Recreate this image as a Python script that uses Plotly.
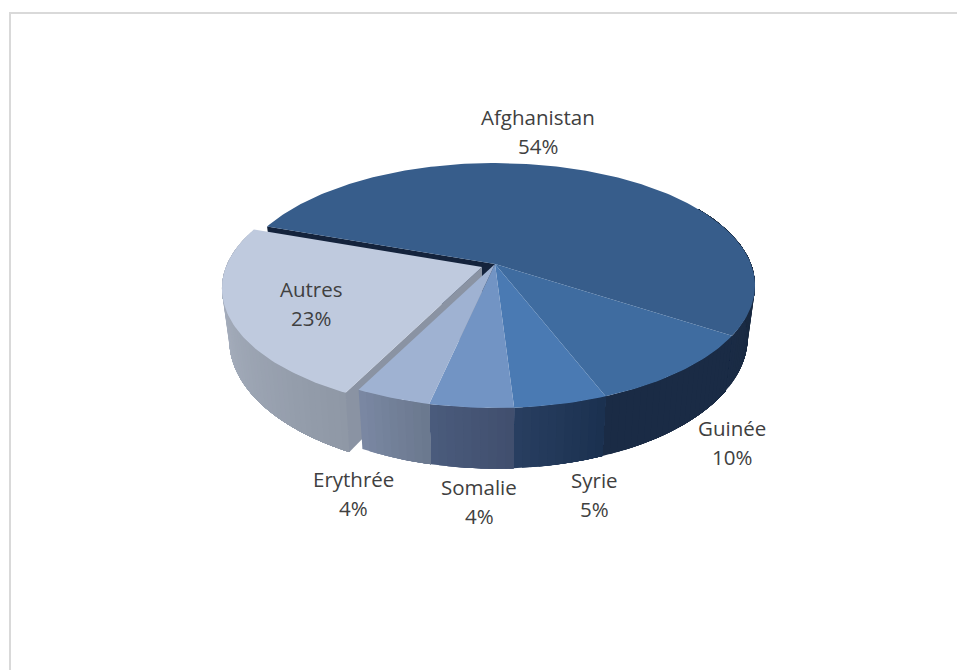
import numpy as np
import plotly.graph_objects as go

# ---- data ----
categories = ["Afghanistan", "Guinée", "Syrie", "Somalie", "Erythrée", "Autres"]
values = [53.8, 9.9, 4.9, 4.4, 4.0, 23.0]
top_colors = ["#375d8b", "#3f6ca0", "#4a7ab3", "#7294c4", "#9fb2d2", "#bfcade"]
wall_colors_a = ["#172739", "#1a2b45", "#1b3150", "#414f6e", "#6b798f", "#8f98a6"]
wall_colors_b = ["#1a2b45", "#1a2b45", "#283e60", "#4a5b7c", "#7a87a2", "#b4bccb"]
exploded = [0, 0, 0, 0, 0, 1]
label_x = [538, 732, 594, 479, 353, 311]
label_y = [117, 428, 480, 487, 479, 289]

# ---- pie geometry (pixels of the 957x670 page) ----
CX, CY = 495, 264
R, RY, K = 256, 118.7, 0.1755
DEPTH, BOTTOM_SHRINK = 50, 0.972
EXPLODE = (-13, 3)
START = 289.5


def rim(theta_deg, level=0, off=0):
    t = np.radians(theta_deg)
    X, Y = np.sin(t), -np.cos(t)
    d = 1 - K * Y
    x = R * X / d
    y = RY * Y / d
    if level:
        x = x * BOTTOM_SHRINK
        y = y + DEPTH / d
    return CX + x + off * EXPLODE[0], CY + y + off * EXPLODE[1]


def centre(level=0, off=0):
    return CX + off * EXPLODE[0], CY + (DEPTH if level else 0) + off * EXPLODE[1]


def mix(c1, c2, f):
    a = [int(c1[i:i + 2], 16) for i in (1, 3, 5)]
    b = [int(c2[i:i + 2], 16) for i in (1, 3, 5)]
    return "rgb(%d,%d,%d)" % tuple(round(p + (q - p) * f) for p, q in zip(a, b))


fig = go.Figure()


def poly(xs, ys, color):
    fig.add_trace(go.Scatter(
        x=list(xs) + [xs[0]], y=list(ys) + [ys[0]], mode="lines", fill="toself",
        fillcolor=color, line=dict(width=0), hoverinfo="skip", showlegend=False))


def wall(a0, a1, i):
    # strips painted from the far end back to a0 overlap each other, so no seams show
    n = max(2, int(abs(a1 - a0) / 1.5))
    edges = np.linspace(a0, a1, n + 1)
    for j in range(n - 1, -1, -1):
        seg = np.linspace(a0, edges[j + 1], max(4, j + 4))
        x0, y0 = rim(seg, 0, exploded[i])
        x1, y1 = rim(seg[::-1], 1, exploded[i])
        f = j / max(n - 1, 1)
        poly(np.r_[x0, x1], np.r_[y0, y1], mix(wall_colors_a[i], wall_colors_b[i], f))


def top(a0, a1, i):
    seg = np.linspace(a0, a1, max(6, int(abs(a1 - a0))))
    x, y = rim(seg, 0, exploded[i])
    cx, cy = centre(0, exploded[i])
    poly(np.r_[cx, x], np.r_[cy, y], top_colors[i])


def cut_face(a, i, color):
    x0, y0 = rim(a, 0, exploded[i])
    x1, y1 = rim(a, 1, exploded[i])
    cx0, cy0 = centre(0, exploded[i])
    cx1, cy1 = centre(1, exploded[i])
    poly([cx0, x0, x1, cx1], [cy0, y0, y1, cy1], color)


total = sum(values)
spans = [v / total * 360 for v in values]
starts = START + np.r_[0, np.cumsum(spans)[:-1]]
ends = starts + np.array(spans)

# Afghanistan: back slice, with its dark cut face showing in the gap
wall(360 + 60, ends[0], 0)
cut_face(starts[0], 0, "#14233c")
top(starts[0], ends[0], 0)
# Autres: exploded slice
wall(starts[5], ends[5], 5)
cut_face(starts[5], 5, "#8a93a3")
top(starts[5], ends[5], 5)
# Front slices
for i in (1, 2, 3, 4):
    wall(starts[i], ends[i], i)
for i in (1, 2, 3, 4):
    top(starts[i], ends[i], i)

for name, v, lx, ly in zip(categories, values, label_x, label_y):
    for k, line in enumerate((name, "%d%%" % round(v))):
        fig.add_annotation(x=lx, y=ly + 29 * k, text=line, showarrow=False,
                           font=dict(family="Open Sans", size=20.5, color="#404040"),
                           xanchor="center", yanchor="middle")

fig.update_layout(
    width=957, height=670, margin=dict(l=0, r=0, t=0, b=0),
    paper_bgcolor="white", plot_bgcolor="white", showlegend=False,
    xaxis=dict(range=[0, 957], visible=False, fixedrange=True),
    yaxis=dict(range=[670, 0], visible=False, fixedrange=True),
    shapes=[
        dict(type="line", x0=10, x1=10, y0=12, y1=670, line=dict(color="#d9d9d9", width=2)),
        dict(type="line", x0=9, x1=957, y0=13, y1=13, line=dict(color="#d9d9d9", width=2)),
    ],
)
fig.write_html("out.html", config={"displayModeBar": False},
               post_script="document.body.style.margin='0';")
